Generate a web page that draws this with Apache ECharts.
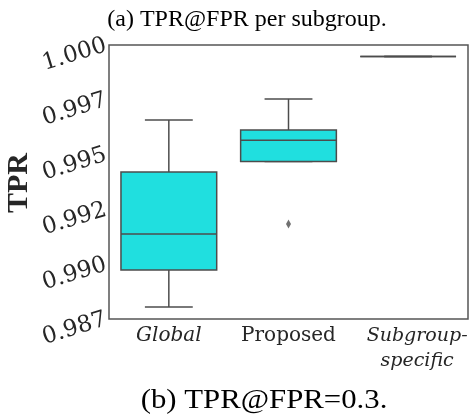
<!DOCTYPE html>
<html>
<head>
<meta charset="utf-8">
<script src="https://cdn.jsdelivr.net/npm/echarts@6/dist/echarts.min.js"></script>
<style>
  html, body { margin: 0; padding: 0; background: #fff; }
  #chart { width: 469px; height: 416px; }
</style>
</head>
<body>
<div id="chart"></div>
<script>
// Box statistics per model type
const categories = ['Global', 'Proposed', 'Subgroup-\nspecific'];
const whiskerLow = [0.98805, 0.99468, 0.99947];
const quartile1 = [0.98974, 0.99468, 0.99947];
const medians = [0.99138, 0.99565, 0.99947];
const quartile3 = [0.99421, 0.99612, 0.99947];
const whiskerHigh = [0.99658, 0.99754, 0.99947];
// Outlier points: [category index, value]
const outliers = [[1, 0.99183]];
// Y tick labels, one per tick from the axis minimum upward
const yTickLabels = ['0.987', '0.990', '0.992', '0.995', '0.997', '1.000'];

const boxRows = categories.map((c, i) => [i, whiskerLow[i], quartile1[i], medians[i], quartile3[i], whiskerHigh[i]]);

const EDGE = '#4c4c4c';
const FILL = '#20dfdf';

function renderBox(params, api) {
  const i = api.value(0);
  const pLow = api.coord([i, api.value(1)]);
  const pQ1 = api.coord([i, api.value(2)]);
  const pMed = api.coord([i, api.value(3)]);
  const pQ3 = api.coord([i, api.value(4)]);
  const pHigh = api.coord([i, api.value(5)]);
  const boxW = api.size([1, 0])[0] * 0.8;
  const capW = boxW / 2;
  const x = pMed[0];
  const lineStyle = { stroke: EDGE, lineWidth: 1.5, fill: null };
  return {
    type: 'group',
    children: [
      { type: 'line', shape: { x1: x, y1: pQ3[1], x2: x, y2: pHigh[1] }, style: lineStyle },
      { type: 'line', shape: { x1: x, y1: pQ1[1], x2: x, y2: pLow[1] }, style: lineStyle },
      { type: 'line', shape: { x1: x - capW / 2, y1: pHigh[1], x2: x + capW / 2, y2: pHigh[1] }, style: lineStyle },
      { type: 'line', shape: { x1: x - capW / 2, y1: pLow[1], x2: x + capW / 2, y2: pLow[1] }, style: lineStyle },
      { type: 'rect', shape: { x: x - boxW / 2, y: pQ3[1], width: boxW, height: pQ1[1] - pQ3[1] },
        style: { fill: FILL, stroke: EDGE, lineWidth: 1.5 } },
      { type: 'line', shape: { x1: x - boxW / 2, y1: pMed[1], x2: x + boxW / 2, y2: pMed[1] }, style: lineStyle }
    ]
  };
}

// Category label styling: italic for the baselines, upright for the proposed model
function categoryLabel(name) {
  if (name === 'Global') return '{it|' + name + '}';
  if (name === 'Proposed') return name;
  return name.split('\n').map(s => '{itr|' + s + '}').join('\n');
}

const chart = echarts.init(document.getElementById('chart'), null, { renderer: 'canvas' });
chart.setOption({
  backgroundColor: '#fff',
  animation: false,
  title: [
    {
      text: '(a) TPR@FPR per subgroup.',
      left: 242, top: 3, textAlign: 'center',
      textStyle: { fontFamily: 'Liberation Serif', fontWeight: 'normal', fontSize: 24, color: '#000' }
    }
  ],
  graphic: [
    // Caption below the plot, set slightly wide
    {
      type: 'text',
      x: 264, y: 387,
      scaleX: 1.14,
      style: {
        text: '(b) TPR@FPR=0.3.',
        font: 'normal 27px "Liberation Serif"',
        fill: '#000',
        align: 'center',
        verticalAlign: 'top'
      }
    },
    // Vertical y-axis title
    {
      type: 'text',
      x: 19, y: 183,
      rotation: Math.PI / 2,
      style: {
        text: 'TPR',
        font: 'bold 30px "Liberation Serif"',
        fill: '#262626',
        align: 'center',
        verticalAlign: 'middle'
      }
    }
  ],
  grid: {
    left: 109, right: 1, top: 45, bottom: 97,
    containLabel: false,
    outerBoundsMode: 'none',
    show: true, borderColor: '#555', borderWidth: 1.5, backgroundColor: 'transparent'
  },
  xAxis: {
    type: 'category',
    data: categories,
    axisLine: { show: false },
    axisTick: { show: false },
    splitLine: { show: false },
    axisLabel: {
      margin: 5,
      interval: 0,
      color: '#262626',
      fontFamily: 'DejaVu Serif',
      fontSize: 20,
      lineHeight: 23,
      formatter: categoryLabel,
      rich: {
        it: { fontStyle: 'italic', fontFamily: 'DejaVu Serif', fontSize: 20, lineHeight: 23, color: '#262626' },
        itr: { fontStyle: 'italic', fontFamily: 'DejaVu Serif', fontSize: 19, lineHeight: 25, color: '#262626',
               padding: [0, 0, 0, 18] }
      }
    }
  },
  yAxis: {
    type: 'value',
    min: 0.9875,
    max: 1.0,
    interval: 0.0025,
    axisLine: { show: false },
    axisTick: { show: false },
    splitLine: { show: false },
    axisLabel: {
      rotate: 17,
      margin: 3,
      color: '#262626',
      fontFamily: 'DejaVu Serif',
      fontSize: 23,
      padding: [14, 0, 0, 0],
      formatter: (v, idx) => yTickLabels[idx]
    }
  },
  series: [
    {
      type: 'custom',
      renderItem: renderBox,
      encode: { x: 0, y: [1, 2, 3, 4, 5] },
      data: boxRows,
      z: 2
    },
    {
      type: 'scatter',
      data: outliers,
      symbol: 'diamond',
      symbolSize: [5, 9],
      itemStyle: { color: EDGE },
      z: 3
    }
  ]
});
</script>
</body>
</html>
